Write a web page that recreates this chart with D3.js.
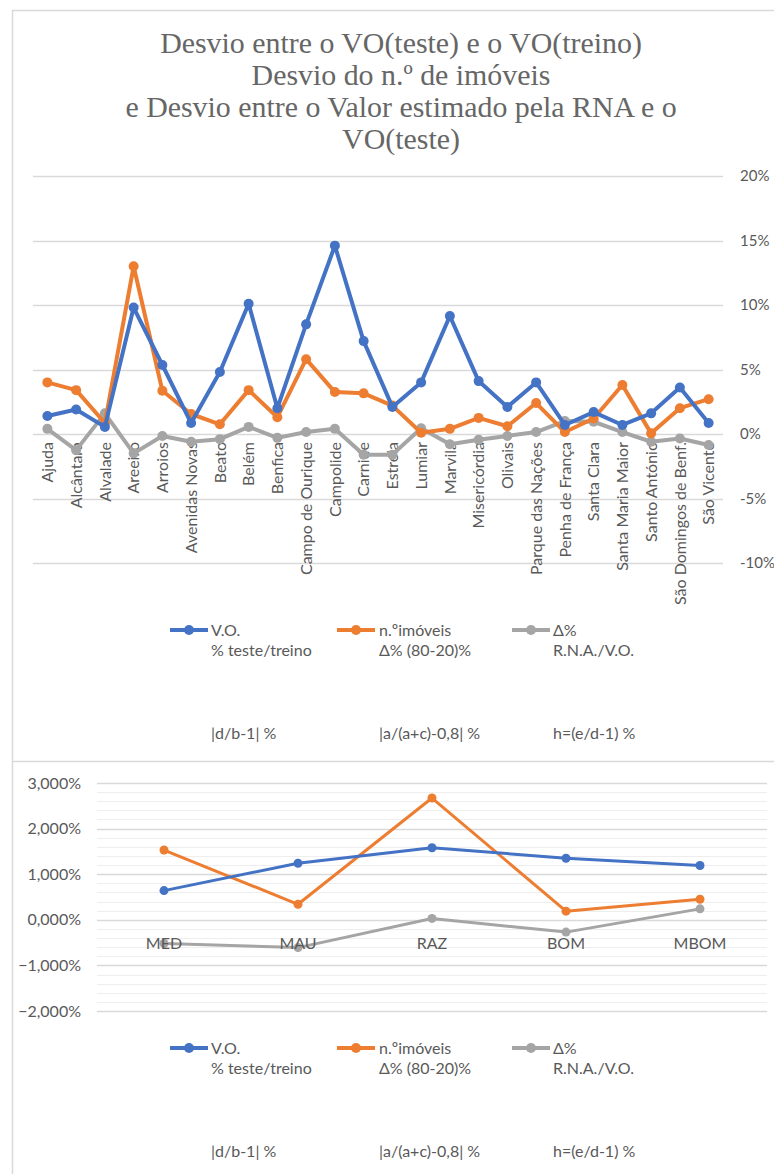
<!DOCTYPE html>
<html><head><meta charset="utf-8">
<script src="https://cdn.jsdelivr.net/npm/d3@7"></script>
<style>
html,body{margin:0;padding:0;background:#fff;}
svg{display:block;}
</style>
</head><body>
<svg id="c" width="774" height="1174"></svg>
<script>
// ---------- DATA ----------
const titleLines = ["Desvio entre o VO(teste) e o VO(treino)", "Desvio do n.º de imóveis", "e Desvio entre o Valor estimado pela RNA e o", "VO(teste)"];
const categories = ["Ajuda","Alcântara","Alvalade","Areeiro","Arroios","Avenidas Novas","Beato","Belém","Benfica","Campo de Ourique","Campolide","Carnide","Estrela","Lumiar","Marvila","Misericórdia","Olivais","Parque das Nações","Penha de França","Santa Clara","Santa Maria Maior","Santo António","São Domingos de Benf.","São Vicente"];
const voTop      = [1.4, 1.9, 0.55, 9.8, 5.35, 0.85, 4.8, 10.1, 2.0, 8.5, 14.6, 7.2, 2.1, 4.0, 9.15, 4.1, 2.1, 4.0, 0.7, 1.7, 0.7, 1.6, 3.6, 0.85];
const imoveisTop = [4.0, 3.4, 0.85, 13.0, 3.35, 1.55, 0.75, 3.4, 1.3, 5.8, 3.25, 3.15, 2.2, 0.1, 0.4, 1.25, 0.6, 2.4, 0.15, 1.2, 3.8, 0.05, 2.0, 2.7];
const rnaTop     = [0.4, -1.25, 1.6, -1.5, -0.15, -0.6, -0.4, 0.55, -0.3, 0.15, 0.4, -1.6, -1.6, 0.45, -0.8, -0.45, -0.15, 0.15, 1.0, 0.95, 0.15, -0.6, -0.35, -0.85];
const topTicks = [20, 15, 10, 5, 0, -5, -10];

const classes = ["MED","MAU","RAZ","BOM","MBOM"];
const voBottom      = [0.64, 1.24, 1.58, 1.35, 1.19];
const imoveisBottom = [1.53, 0.34, 2.67, 0.19, 0.45];
const rnaBottom     = [-0.52, -0.61, 0.03, -0.27, 0.24];
const bottomTicks = [3, 2, 1, 0, -1, -2];

const seriesNames = ["V.O.", "n.ºimóveis", "Δ%"];
const seriesSub1  = ["% teste/treino", "Δ% (80-20)%", "R.N.A./V.O."];
const seriesSub2  = ["|d/b-1| %", "|a/(a+c)-0,8| %", "h=(e/d-1) %"];
const colors = ["#4472C4", "#ED7D31", "#A5A5A5"];

// ---------- DRAW ----------
const svg = d3.select("#c");
const sans = "Lato, 'Liberation Sans', sans-serif";
const txt = "#595959";
const grid = "#d9d9d9";

// frames
svg.append("line").attr("x1",12.5).attr("x2",12.5).attr("y1",10).attr("y2",1174).attr("stroke",grid).attr("stroke-width",1.5);
svg.append("line").attr("x1",12).attr("x2",774).attr("y1",10.5).attr("y2",10.5).attr("stroke",grid).attr("stroke-width",1.5);
svg.append("line").attr("x1",12).attr("x2",774).attr("y1",761.5).attr("y2",761.5).attr("stroke",grid).attr("stroke-width",1.5);

// title
const tg = svg.append("g");
const tY = [53, 85, 117, 149];
const tEls = titleLines.map((t,i)=> tg.append("text").attr("x",401).attr("y",tY[i]).attr("text-anchor","middle")
  .attr("font-family","'Liberation Serif', 'DejaVu Serif', serif").attr("font-size",24).attr("fill","#666666").text(t));
const w0 = tEls[0].node().getComputedTextLength();
const fs = 24 * 482 / w0;
tEls.forEach(e=>e.attr("font-size",fs));

// ---------- TOP CHART ----------
const xT = d3.scalePoint().domain(categories).range([33,723]).padding(0.5);
const yT = d3.scaleLinear().domain([-10,20]).range([563,176]);

const gT = svg.append("g");
gT.selectAll("line.g").data(topTicks).join("line")
  .attr("x1",33).attr("x2",723).attr("y1",d=>Math.round(yT(d))+0.5).attr("y2",d=>Math.round(yT(d))+0.5)
  .attr("stroke",grid).attr("stroke-width",1.3);
const yAxisT = d3.axisRight(yT).tickValues(topTicks).tickSize(0).tickPadding(0).tickFormat(d=>d+"%");
const ya = gT.append("g").attr("transform","translate(740,0)").call(yAxisT);
ya.select(".domain").remove();
ya.selectAll("text").attr("font-family",sans).attr("font-size",15).attr("fill",txt).attr("text-anchor","start");

// category labels
gT.selectAll("text.cat").data(categories).join("text")
  .attr("transform",d=>`translate(${xT(d)},442) rotate(-90)`)
  .attr("text-anchor","end").attr("dy","0.36em")
  .attr("font-family",sans).attr("font-size",16).attr("fill",txt).text(d=>d);

const topSeries = [voTop, imoveisTop, rnaTop];
const lineT = d3.line().x((d,i)=>xT(categories[i])).y(d=>yT(d));
[2,1,0].forEach(k=>{
  const s = topSeries[k];
  gT.append("path").datum(s).attr("d",lineT).attr("fill","none").attr("stroke",colors[k]).attr("stroke-width",4).attr("stroke-linejoin","round");
  gT.selectAll(null).data(s).join("circle").attr("cx",(d,i)=>xT(categories[i])).attr("cy",d=>yT(d)).attr("r",5).attr("fill",colors[k]);
});

// legend helper
const legX = [170, 337, 512];
const legTX = [211, 379, 553];
function legend(y0){
  const g = svg.append("g");
  seriesNames.forEach((n,k)=>{
    g.append("line").attr("x1",legX[k]).attr("x2",legX[k]+38).attr("y1",y0).attr("y2",y0).attr("stroke",colors[k]).attr("stroke-width",4);
    g.append("circle").attr("cx",legX[k]+19).attr("cy",y0).attr("r",5).attr("fill",colors[k]);
    const t = g.append("text").attr("x",legTX[k]).attr("y",y0+5.5).attr("font-family",sans).attr("font-size",16).attr("fill",txt);
    t.append("tspan").attr("x",legTX[k]).text(n);
    t.append("tspan").attr("x",legTX[k]).attr("dy",20.7).text(seriesSub1[k]);
    t.append("tspan").attr("x",legTX[k]).attr("dy",20.7*4).text(seriesSub2[k]);
  });
}
legend(630);

// ---------- BOTTOM CHART ----------
const xB = d3.scalePoint().domain(classes).range([97,767]).padding(0.5);
const yB = d3.scaleLinear().domain([-2,3]).range([1011,783]);
const gB = svg.append("g");
const minor = d3.range(-2,3.0001,0.2).map(v=>Math.round(v*10)/10);
gB.selectAll("line.m").data(minor).join("line")
  .attr("x1",97).attr("x2",767).attr("y1",d=>Math.round(yB(d))+0.5).attr("y2",d=>Math.round(yB(d))+0.5)
  .attr("stroke","#eeeeee").attr("stroke-width",1.2);
gB.selectAll("line.M").data(bottomTicks).join("line")
  .attr("x1",97).attr("x2",767).attr("y1",d=>Math.round(yB(d))+0.5).attr("y2",d=>Math.round(yB(d))+0.5)
  .attr("stroke",grid).attr("stroke-width",1.3);
const yAxisB = d3.axisLeft(yB).tickValues(bottomTicks).tickSize(0).tickPadding(0)
  .tickFormat(d=>d3.format(".3f")(d).replace(".",",")+"%");
const yb = gB.append("g").attr("transform","translate(81,0)").call(yAxisB);
yb.select(".domain").remove();
yb.selectAll("text").attr("font-family",sans).attr("font-size",16).attr("fill",txt);

const bottomSeries = [voBottom, imoveisBottom, rnaBottom];
const lineB = d3.line().x((d,i)=>xB(classes[i])).y(d=>yB(d));
[2,1,0].forEach(k=>{
  const s = bottomSeries[k];
  gB.append("path").datum(s).attr("d",lineB).attr("fill","none").attr("stroke",colors[k]).attr("stroke-width",3).attr("stroke-linejoin","round");
  gB.selectAll(null).data(s).join("circle").attr("cx",(d,i)=>xB(classes[i])).attr("cy",d=>yB(d)).attr("r",4.5).attr("fill",colors[k]);
});
gB.selectAll("text.cl").data(classes).join("text")
  .attr("x",d=>xB(d)).attr("y",yB(0)+29).attr("text-anchor","middle")
  .attr("font-family",sans).attr("font-size",16).attr("fill",txt).text(d=>d);

legend(1048);
</script>
</body></html>
